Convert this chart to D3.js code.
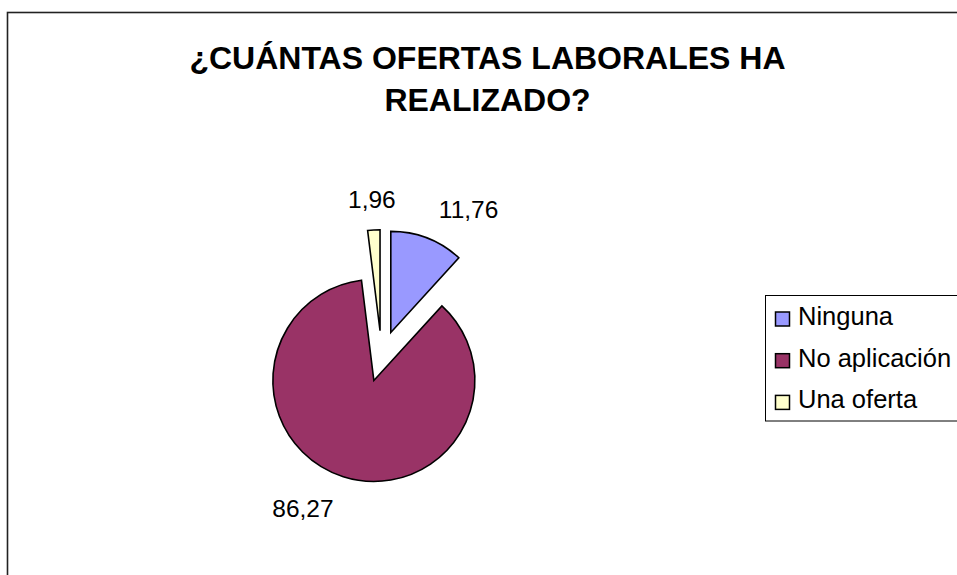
<!DOCTYPE html>
<html>
<head>
<meta charset="utf-8">
<script src="https://cdn.jsdelivr.net/npm/d3@7"></script>
<style>
  body { margin: 0; background: #fff; }
  svg { display: block; font-family: "Liberation Sans", Arial, sans-serif; }
</style>
</head>
<body>
<div id="chart"></div>
<script>
const categories = ["Ninguna", "No aplicación", "Una oferta"];
const values = [11.76, 86.27, 1.96];
const colours = ["#9999FF", "#993366", "#FFFFCC"];
const titleLines = ["¿CUÁNTAS OFERTAS LABORALES HA", "REALIZADO?"];

const width = 957,
  height = 575,
  cx = 381.6,
  cy = 356.2,
  radius = 101,
  explode = 25.5,
  labelRadius = 133;

const esLocale = d3.formatLocale({ decimal: ",", thousands: ".", grouping: [3], currency: ["", "€"] });
const formatValue = esLocale.format(".2f");

const data = categories.map((c, i) => ({ name: c, value: values[i], colour: colours[i] }));

const svg = d3
  .select("#chart")
  .append("svg")
  .attr("width", width)
  .attr("height", height);

// outer frame (runs off the right and bottom edge)
svg
  .append("rect")
  .attr("x", 7.5)
  .attr("y", 12.5)
  .attr("width", width)
  .attr("height", height)
  .attr("fill", "#fff")
  .attr("stroke", "#222")
  .attr("stroke-width", 1.6);

svg
  .append("g")
  .attr("class", "title")
  .selectAll("text")
  .data(titleLines)
  .enter()
  .append("text")
  .attr("x", 487.5)
  .attr("y", (d, i) => 68.5 + i * 42.5)
  .attr("text-anchor", "middle")
  .style("font-size", "32px")
  .style("font-weight", "bold")
  .attr("fill", "#000")
  .text(d => d);

const pie = d3
  .pie()
  .sort(null)
  .value(d => d.value)
  .startAngle(0)
  .endAngle(2 * Math.PI);

const arcs = pie(data);
const arc = d3.arc().innerRadius(0).outerRadius(radius);
const midAngle = d => (d.startAngle + d.endAngle) / 2;

const chart = svg.append("g").attr("transform", `translate(${cx}, ${cy})`);

const slice = chart
  .selectAll(".slice")
  .data(arcs)
  .enter()
  .append("g")
  .attr("class", "slice")
  .attr("transform", d => {
    const a = midAngle(d);
    return `translate(${explode * Math.sin(a)}, ${-explode * Math.cos(a)})`;
  });

slice
  .append("path")
  .attr("d", arc)
  .attr("fill", d => d.data.colour)
  .attr("stroke", "#000")
  .attr("stroke-width", 1.6)
  .attr("stroke-linejoin", "miter");

slice
  .append("text")
  .attr("x", d => labelRadius * Math.sin(midAngle(d)))
  .attr("y", d => -labelRadius * Math.cos(midAngle(d)))
  .attr("dy", "0.4em")
  .attr("text-anchor", d => {
    const s = Math.sin(midAngle(d));
    return Math.abs(s) < 0.2 ? "middle" : s > 0 ? "start" : "end";
  })
  .style("font-size", "24.5px")
  .attr("fill", "#000")
  .text(d => formatValue(d.data.value));

// legend
const legend = svg.append("g").attr("class", "legend").attr("transform", "translate(765.5, 295.5)");

legend
  .append("rect")
  .attr("width", 200)
  .attr("height", 125.5)
  .attr("fill", "#fff")
  .attr("stroke", "#000")
  .attr("stroke-width", 1);

const item = legend
  .selectAll(".item")
  .data(data)
  .enter()
  .append("g")
  .attr("class", "item")
  .attr("transform", (d, i) => `translate(0, ${29.5 + i * 41.7})`);

item
  .append("rect")
  .attr("x", 10)
  .attr("y", -13)
  .attr("width", 14)
  .attr("height", 14)
  .attr("fill", d => d.colour)
  .attr("stroke", "#000")
  .attr("stroke-width", 1.5);

item
  .append("text")
  .attr("x", 32.5)
  .attr("y", 0)
  .style("font-size", "25.5px")
  .attr("fill", "#000")
  .text(d => d.name);
</script>
</body>
</html>
